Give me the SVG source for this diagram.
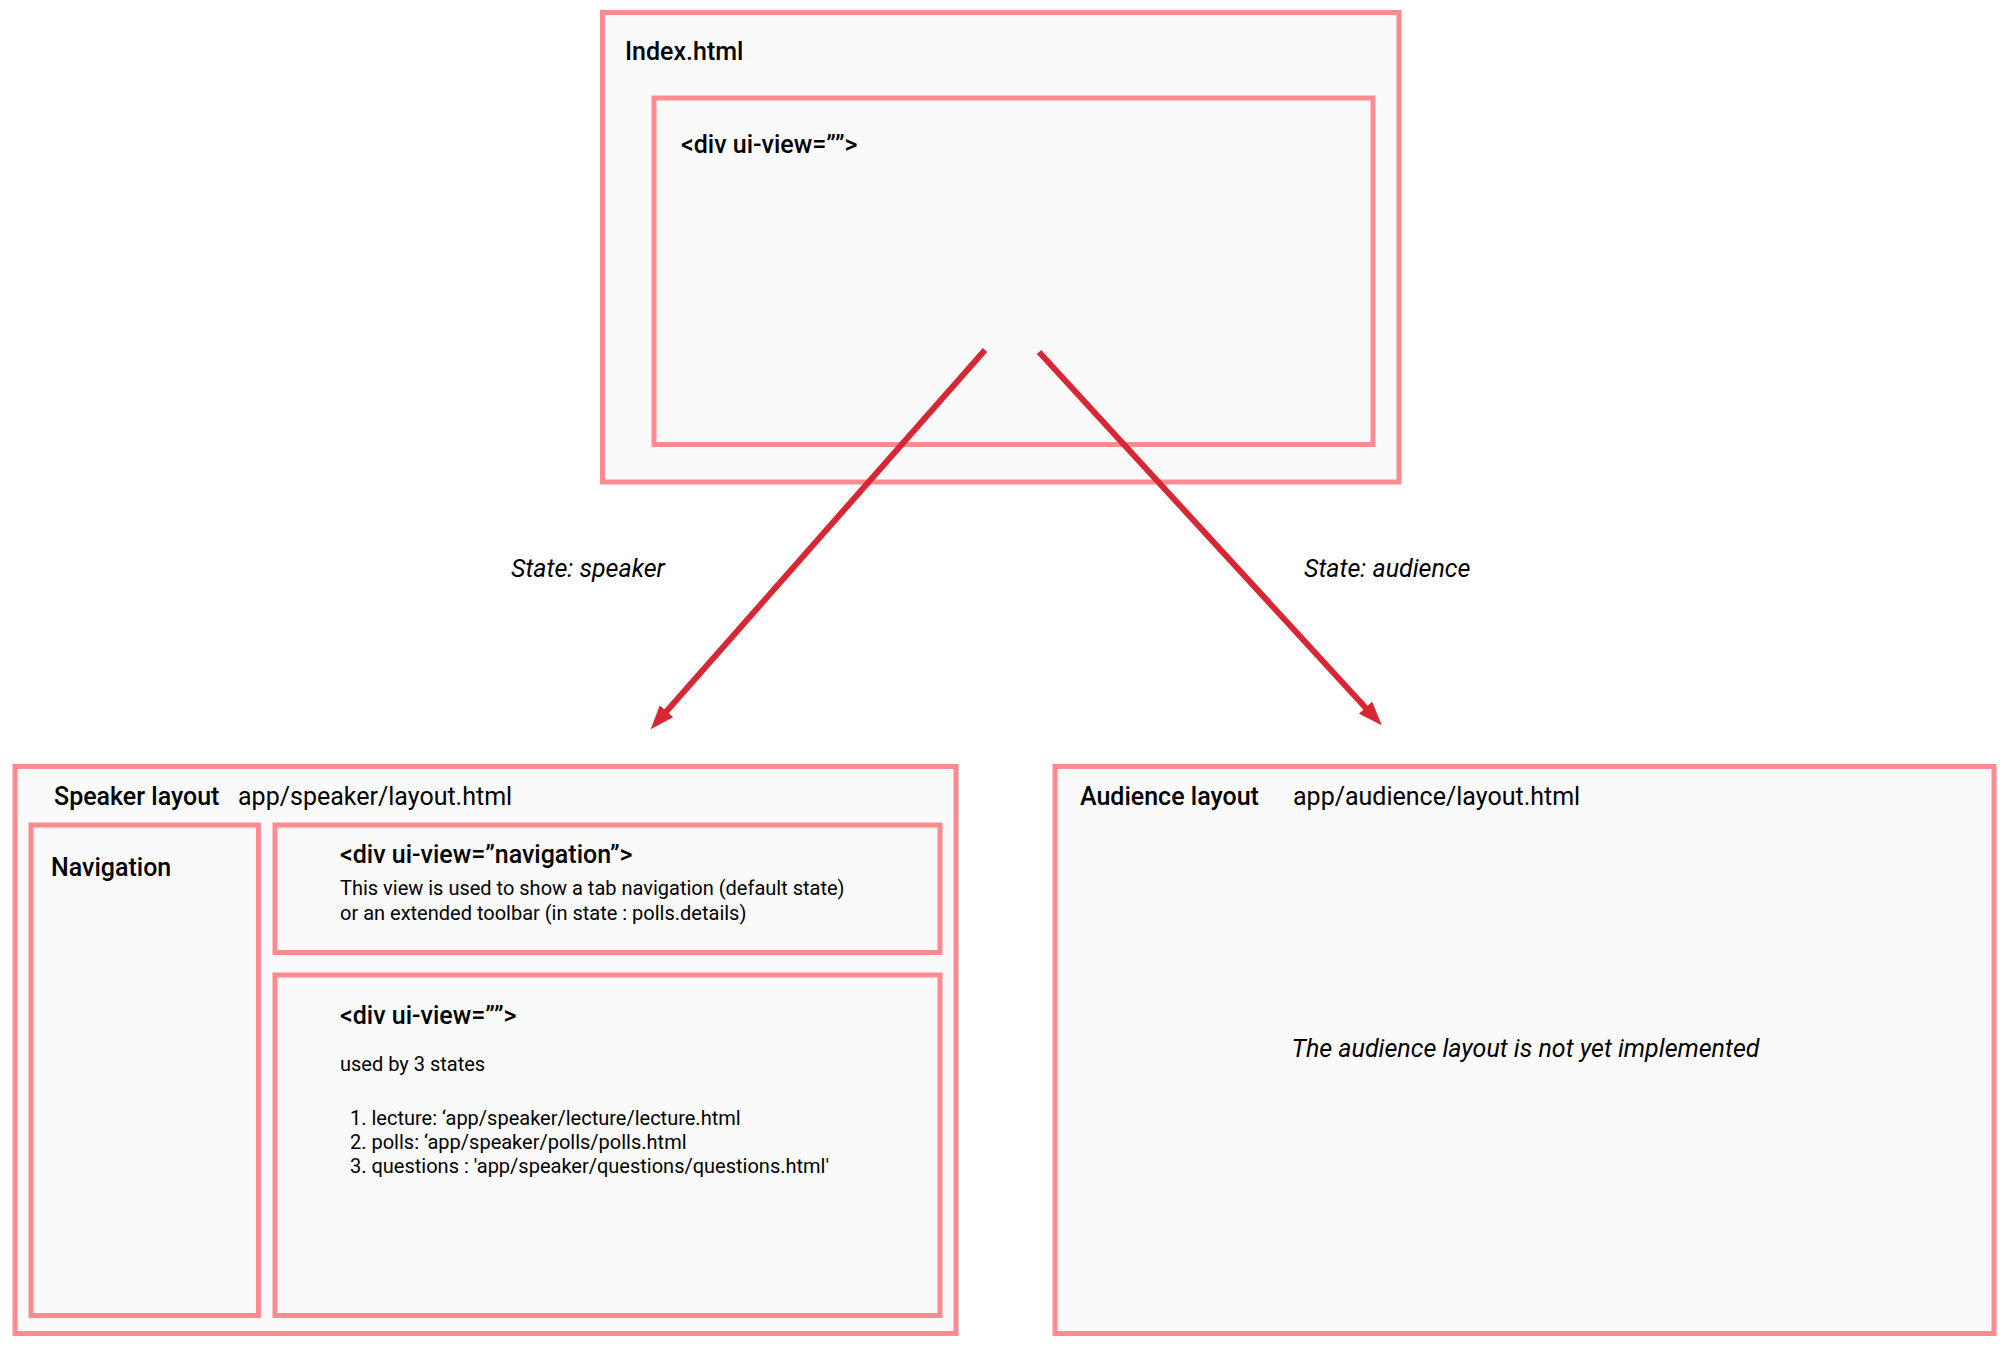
<svg xmlns="http://www.w3.org/2000/svg" width="2008" height="1353" viewBox="0 0 2008 1353">
<style>
.box{fill:#FAFAFA;stroke:#FF8A8F;stroke-width:5}
text{font-family:Roboto,"Liberation Sans",sans-serif;fill:#000}
.h{font-size:25px;font-weight:500}
.d{font-size:25px;font-weight:500}
.r{font-size:25px}
.s{font-size:20px}
.i{font-size:25px;font-style:italic}
.conn{stroke:#D62834;stroke-width:6;fill:none}
</style>
<defs>
<marker id="ah" markerUnits="userSpaceOnUse" viewBox="0 0 24 18" refX="9" refY="9" markerWidth="24" markerHeight="18" orient="auto">
<path d="M0,0 L24,9 L0,18 Z" fill="#D62834"/>
</marker>
</defs>
<rect width="2008" height="1353" fill="#FFFFFF"/>
<g id="index">
<rect class="box" x="602.5" y="12.5" width="796.5" height="469.5"/>
<text class="h" x="625" y="60">Index.html</text>
</g>
<g id="index-view">
<rect class="box" x="654" y="98" width="719" height="346.5"/>
<text class="d" x="681" y="153">&lt;div ui-view=””&gt;</text>
</g>
<g id="speaker-layout">
<rect class="box" x="15" y="766.5" width="941" height="567"/>
<text class="h" x="54" y="805">Speaker layout</text>
<text class="r" x="238" y="805">app/speaker/layout.html</text>
</g>
<g id="navigation">
<rect class="box" x="31" y="825" width="227.5" height="490.5"/>
<text class="h" x="51" y="876">Navigation</text>
</g>
<g id="navigation-view">
<rect class="box" x="275" y="825" width="665" height="127.5"/>
<text class="d" x="340" y="863">&lt;div ui-view=”navigation”&gt;</text>
<text class="s" x="340" y="895">This view is used to show a tab navigation (default state)</text>
<text class="s" x="340" y="920">or an extended toolbar (in state : polls.details)</text>
</g>
<g id="content-view">
<rect class="box" x="275" y="975" width="665" height="340.5"/>
<text class="d" x="340" y="1024">&lt;div ui-view=””&gt;</text>
<text class="s" x="340" y="1071">used by 3 states</text>
<text class="s" x="350" y="1125">1. lecture: ‘app/speaker/lecture/lecture.html</text>
<text class="s" x="350" y="1149">2. polls: ‘app/speaker/polls/polls.html</text>
<text class="s" x="350" y="1173">3. questions : 'app/speaker/questions/questions.html'</text>
</g>
<g id="audience-layout">
<rect class="box" x="1055" y="766.5" width="939" height="567"/>
<text class="h" x="1080" y="805">Audience layout</text>
<text class="r" x="1293" y="805">app/audience/layout.html</text>
<text class="i" x="1525.5" y="1057" text-anchor="middle">The audience layout is not yet implemented</text>
</g>
<g id="connectors">
<line class="conn" x1="985" y1="350" x2="660.6" y2="718" marker-end="url(#ah)"/>
<line class="conn" x1="1039" y1="352" x2="1371.6" y2="714.3" marker-end="url(#ah)"/>
<text class="i" x="511" y="577">State: speaker</text>
<text class="i" x="1304" y="577">State: audience</text>
</g>
</svg>
